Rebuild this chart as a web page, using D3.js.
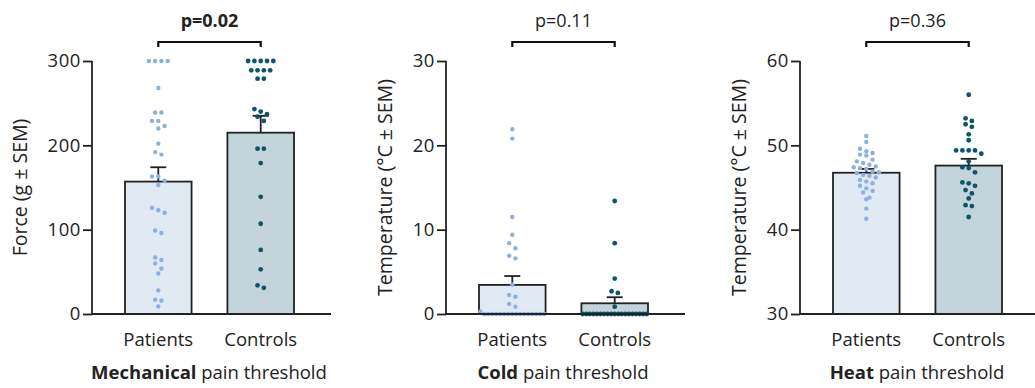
<!DOCTYPE html>
<html><head><meta charset="utf-8">
<script src="https://cdn.jsdelivr.net/npm/d3@7"></script>
<style>
html,body{margin:0;padding:0;background:#fff;}
svg{display:block;font-family:"Open Sans",sans-serif;}
</style></head>
<body><svg id="chart" width="1035" height="388"></svg>
<script>
// ---- data ----
const groups = ["Patients", "Controls"];
const panelTitlesBold = ["Mechanical", "Cold", "Heat"];
const panelTitlesRest = [" pain threshold", " pain threshold", " pain threshold"];
const yLabels = ["Force (g \u00B1 SEM)", "Temperature (\u00B0C \u00B1 SEM)", "Temperature (\u00B0C \u00B1 SEM)"];
const yDomains = [[0, 300], [0, 30], [30, 60]];
const yTicks = [[0, 100, 200, 300], [0, 10, 20, 30], [30, 40, 50, 60]];
const pValues = ["p=0.02", "p=0.11", "p=0.36"];
const pBold = [true, false, false];

const mechMeans = [157, 215];
const mechSEM = [17, 20];
const coldMeans = [3.45, 1.27];
const coldSEM = [1.05, 0.72];
const heatMeans = [46.75, 47.6];
const heatSEM = [0.45, 0.8];

const mechPatients = [300,300,300,300,268,239,239,229,229,223,220,202,192,189,163,163,158,153,126,123,120,99,96,67,64,60,54,48,28,17,16,9];
const mechControls = [300,300,300,300,300,289,289,289,289,279,279,243,240,237,234,229,196,196,179,139,107,76,53,34,31];
const coldPatients = [21.9,20.8,11.5,9.4,8.4,7.8,6.9,6.6,3.5,2.25,2.05,1.2,0.87,0.3,0,0,0,0,0,0,0,0,0,0,0,0,0,0,0,0];
const coldControls = [13.4,8.4,4.2,2.7,2.5,0.87,0,0,0,0,0,0,0,0,0,0,0,0,0,0,0,0,0,0,0];
const heatPatients = [51.1,50.4,49.6,49.3,49.1,48.9,48.8,48.3,48.1,47.9,47.7,47.5,47.4,47.3,47.2,46.9,46.8,46.7,46.5,46.4,46.2,45.9,45.7,45.5,45.2,44.9,44.6,44.4,43.8,43.6,42.5,41.3];
const heatControls = [56.0,53.2,52.9,52.5,52.2,51.3,50.6,49.4,49.4,49.4,49.4,49.0,48.1,47.4,47.3,46.8,45.6,45.5,45.2,44.7,44.3,43.7,42.9,42.8,41.5];

const panels = [
  {means: mechMeans, sem: mechSEM, pts: [mechPatients, mechControls]},
  {means: coldMeans, sem: coldSEM, pts: [coldPatients, coldControls]},
  {means: heatMeans, sem: heatSEM, pts: [heatPatients, heatControls]}
];

// ---- style ----
const fills = ["#e1e9f3", "#c3d4db"];
const dotColors = ["#8db1de", "#0c5666"];
const dotR = [2.2, 2.4];
const ink = "#222";

const svg = d3.select("#chart");
const plotTop = 61, plotBottom = 314;
const panelShift = 354;

panels.forEach((p, i) => {
  const g = svg.append("g").attr("transform", `translate(${i * panelShift},0)`);
  const axisX = 92, axisEnd = 331;
  const x = d3.scaleBand().domain(groups).range([125, 294]).paddingInner(0.35).paddingOuter(0);
  const y = d3.scaleLinear().domain(yDomains[i]).range([plotBottom, plotTop]);

  // bars
  groups.forEach((grp, k) => {
    g.append("rect")
      .attr("x", x(grp)).attr("width", x.bandwidth())
      .attr("y", y(p.means[k])).attr("height", y(yDomains[i][0]) - y(p.means[k]))
      .attr("fill", fills[k]).attr("stroke", ink).attr("stroke-width", 1.8);
    const cx = x(grp) + x.bandwidth() / 2;
    g.append("line").attr("x1", cx).attr("x2", cx)
      .attr("y1", y(p.means[k])).attr("y2", y(p.means[k] + p.sem[k]))
      .attr("stroke", ink).attr("stroke-width", 1.8);
    g.append("line").attr("x1", cx - 8).attr("x2", cx + 8)
      .attr("y1", y(p.means[k] + p.sem[k])).attr("y2", y(p.means[k] + p.sem[k]))
      .attr("stroke", ink).attr("stroke-width", 1.8);

    // dots: group by pixel proximity, spread rows symmetrically
    const vals = p.pts[k].slice().sort((a, b) => b - a);
    const s = 6.3, maxW = 64;
    const rows = [];
    vals.forEach(v => {
      const py = y(v);
      const last = rows[rows.length - 1];
      if (last && Math.abs(py - last.y0) < s * 0.85) last.items.push(py);
      else rows.push({y0: py, items: [py]});
    });
    rows.forEach(r => {
      const n = r.items.length;
      const sp = n > 1 ? Math.min(s, maxW / (n - 1)) : 0;
      r.items.forEach((py, j) => {
        g.append("circle")
          .attr("cx", cx + (j - (n - 1) / 2) * sp)
          .attr("cy", py)
          .attr("r", dotR[k])
          .attr("fill", dotColors[k]);
      });
    });
  });

  // axes
  const yAxis = d3.axisLeft(y).tickValues(yTicks[i]).tickSize(9).tickPadding(2);
  const ya = g.append("g").attr("transform", `translate(${axisX},0)`).call(yAxis);
  ya.select(".domain").attr("stroke", ink).attr("stroke-width", 1.8).attr("d", `M0,${plotTop}V${plotBottom}`);
  ya.selectAll(".tick line").attr("stroke", ink).attr("stroke-width", 1.8);
  ya.selectAll(".tick text").attr("fill", ink).style("font-size", "18.5px")
    .style("font-family", "Open Sans").style("letter-spacing", "0.6px");
  g.append("line").attr("x1", axisX).attr("x2", axisEnd).attr("y1", plotBottom).attr("y2", plotBottom)
    .attr("stroke", ink).attr("stroke-width", 1.8);

  // category labels
  groups.forEach(grp => {
    g.append("text").attr("x", x(grp) + x.bandwidth() / 2).attr("y", 346)
      .attr("text-anchor", "middle").attr("fill", ink).style("font-size", "18.5px").text(grp);
  });

  // title
  const t = g.append("text").attr("x", 209).attr("y", 379).attr("text-anchor", "middle")
    .attr("fill", ink).style("font-size", "18.5px");
  t.append("tspan").style("font-weight", "bold").text(panelTitlesBold[i]);
  t.append("tspan").text(panelTitlesRest[i]);

  // y label
  g.append("text").attr("transform", `translate(${i === 0 ? 27 : 38},${(plotTop + plotBottom) / 2}) rotate(-90)`)
    .attr("text-anchor", "middle").attr("fill", ink).style("font-size", "19.5px").text(yLabels[i]);

  // bracket
  const c0 = x(groups[0]) + x.bandwidth() / 2, c1 = x(groups[1]) + x.bandwidth() / 2;
  const by = 42;
  g.append("path").attr("d", `M${c0},${by + 5}V${by}H${c1}V${by + 5}`)
    .attr("fill", "none").attr("stroke", "#111").attr("stroke-width", 2.2);
  g.append("text").attr("x", (c0 + c1) / 2).attr("y", 27).attr("text-anchor", "middle")
    .attr("fill", ink).style("font-size", "18px").style("font-weight", pBold[i] ? "bold" : "normal")
    .text(pValues[i]);
});
</script></body></html>
